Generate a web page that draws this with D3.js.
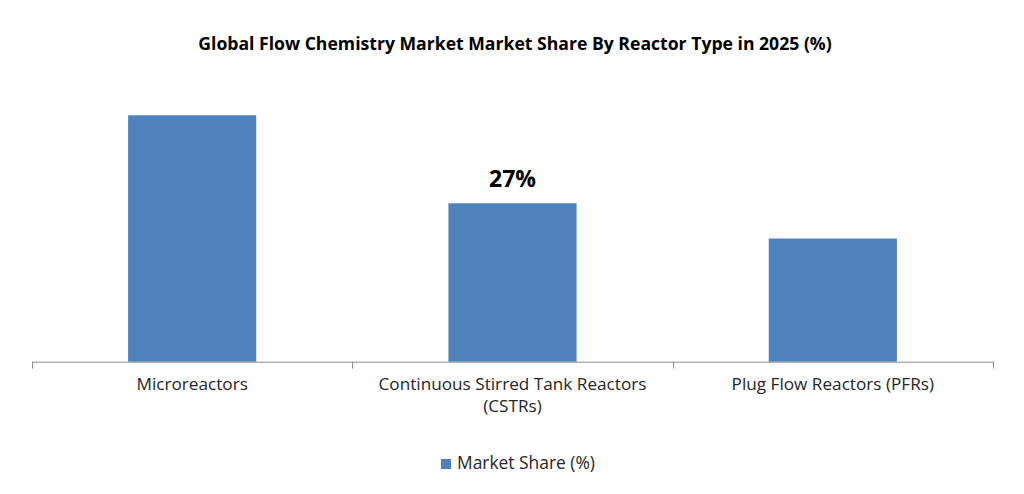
<!DOCTYPE html>
<html><head><meta charset="utf-8">
<script src="https://cdn.jsdelivr.net/npm/d3@7"></script>
<style>body{margin:0;background:#fff}svg{display:block}</style>
</head><body>
<script>
const categories = ["Microreactors", "Continuous Stirred Tank Reactors|(CSTRs)", "Plug Flow Reactors (PFRs)"];
const values = [42, 27, 21];
const labelShown = [false, true, false];
const seriesName = "Market Share (%)";
const title = "Global Flow Chemistry Market Market Share By Reactor Type in 2025 (%)";

const W = 1024, H = 494;
const font = "'Open Sans', 'Noto Sans', sans-serif";
const svg = d3.select("body").append("svg").attr("width", W).attr("height", H);
svg.append("rect").attr("width", W).attr("height", H).attr("fill", "#fff");

function fitSize(sel, target) {
  const n = sel.node();
  const fs = parseFloat(sel.attr("font-size"));
  const w = n.getComputedTextLength();
  return fs * target / w;
}

const x = d3.scaleBand().domain(categories).range([32, 993]).paddingInner(0.6).paddingOuter(0.3);
const y = d3.scaleLinear().domain([0, 45]).range([361.7, 97.7]);

svg.selectAll("rect.bar").data(values).join("rect").attr("class", "bar")
  .attr("x", (d, i) => x(categories[i])).attr("width", x.bandwidth())
  .attr("y", d => y(d)).attr("height", d => y(0) - y(d)).attr("fill", "#4F81BD");

// axis
const ax = svg.append("g").attr("transform", `translate(0,${y(0)})`)
  .call(d3.axisBottom(x).tickSize(0).tickFormat(""));
ax.select(".domain").attr("stroke", "#8c8c8c").attr("d", "M32,0.5H993");
const edges = [32, ...categories.map(c => x(c) + x.bandwidth() / 2 + x.step() / 2)];
svg.selectAll("line.tk").data(edges).join("line").attr("class", "tk")
  .attr("x1", d => Math.round(d) + 0.5).attr("x2", d => Math.round(d) + 0.5)
  .attr("y1", y(0)).attr("y2", y(0) + 7).attr("stroke", "#8c8c8c");

// category labels
const catTexts = [];
categories.forEach((c, i) => {
  const lines = c.split("|");
  lines.forEach((ln, j) => {
    catTexts.push(svg.append("text").attr("x", x(c) + x.bandwidth() / 2).attr("y", 390 + j * 22)
      .attr("text-anchor", "middle").attr("font-family", font).attr("font-size", 15.5)
      .attr("fill", "#262626").text(ln));
  });
});
const catSize = fitSize(catTexts[1], 268);
catTexts.forEach(t => t.attr("font-size", catSize.toFixed(2)));

// value labels
values.forEach((v, i) => {
  if (!labelShown[i]) return;
  const vt = svg.append("text").attr("x", x(categories[i]) + x.bandwidth() / 2).attr("y", y(v) - 16.5)
    .attr("text-anchor", "middle").attr("font-family", font).attr("font-weight", "bold")
    .attr("font-size", 20).attr("fill", "#000").text(v + "%");
  vt.attr("font-size", fitSize(vt, 47).toFixed(2));
});

// title
const t = svg.append("text").attr("x", 515).attr("y", 50).attr("text-anchor", "middle")
  .attr("font-family", font).attr("font-weight", "bold").attr("font-size", 16)
  .attr("fill", "#000").text(title);
t.attr("font-size", fitSize(t, 634).toFixed(2));

// legend
svg.append("rect").attr("x", 441).attr("y", 459).attr("width", 10).attr("height", 10).attr("fill", "#4F81BD");
const lt = svg.append("text").attr("x", 457).attr("y", 468.5).attr("font-family", font)
  .attr("font-size", 15.5).attr("fill", "#262626").text(seriesName);
lt.attr("font-size", fitSize(lt, 138).toFixed(2));
</script>
</body></html>
